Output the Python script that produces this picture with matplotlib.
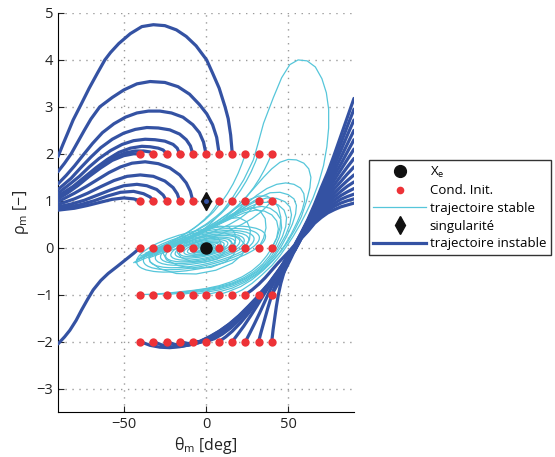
import matplotlib
matplotlib.use("Agg")
import matplotlib.pyplot as plt
from matplotlib.lines import Line2D
from matplotlib.patches import Ellipse
from matplotlib.transforms import Affine2D

# ---- initial conditions grid (deg, -) ----
THETA0 = [-40, -32, -24, -16, -8, 0, 8, 16, 24, 32, 40]
RHO0 = [-2, -1, 0, 1, 2]
X_E = (0, 0)
SINGULARITY = (0, 1)

# ---- unstable trajectories escaping to the left (theta, rho) ----
LEFT_ARCS = [
    [(16, 2.0), (15, 2.4), (13.5, 2.75), (11.6, 3.0), (8, 3.4), (4, 3.72), (0.4, 4.0), (-6, 4.3),
     (-12, 4.5), (-18, 4.64), (-25, 4.73), (-32, 4.75), (-39, 4.71), (-46, 4.56), (-53, 4.35),
     (-58, 4.16), (-61.5, 4.0), (-66, 3.72), (-71, 3.4), (-76, 3.05), (-80.8, 2.72), (-84, 2.45),
     (-87, 2.2), (-90, 1.94)],
    [(8, 2.0), (6.5, 2.35), (4, 2.62), (0.5, 2.85), (-4, 3.05), (-10, 3.27), (-17, 3.43), (-25, 3.52),
     (-34, 3.54), (-42, 3.49), (-50, 3.36), (-57, 3.2), (-64.6, 3.0), (-70, 2.74), (-74, 2.5),
     (-78, 2.25), (-82, 2.0), (-86, 1.8), (-90, 1.62)],
    [(0, 2.0), (-1.5, 2.25), (-4, 2.45), (-8, 2.62), (-14, 2.78), (-21, 2.87), (-28, 2.91), (-35, 2.91),
     (-42, 2.87), (-49, 2.78), (-56, 2.64), (-63, 2.45), (-69, 2.22), (-75, 1.96), (-80, 1.74),
     (-85, 1.54), (-90, 1.36)],
    [(-8, 2.0), (-9.5, 2.17), (-12, 2.3), (-16, 2.42), (-22, 2.51), (-29, 2.55), (-36, 2.56), (-43, 2.52),
     (-50, 2.44), (-57, 2.31), (-64, 2.13), (-70, 1.93), (-76, 1.71), (-82, 1.48), (-90, 1.24)],
    [(-16, 2.0), (-17.5, 2.12), (-20, 2.2), (-25, 2.27), (-31, 2.3), (-37, 2.31), (-44, 2.28), (-51, 2.2),
     (-58, 2.07), (-65, 1.9), (-71, 1.72), (-77, 1.52), (-83, 1.35), (-90, 1.16)],
    [(-24, 2.0), (-26, 2.08), (-29, 2.12), (-34, 2.15), (-39, 2.16), (-46, 2.12), (-53, 2.03), (-60, 1.88),
     (-67, 1.7), (-74, 1.5), (-81, 1.3), (-90, 1.1)],
    [(-32, 2.0), (-34, 2.04), (-38, 2.06), (-43, 2.06), (-49, 2.02), (-56, 1.92), (-63, 1.76), (-70, 1.57),
     (-77, 1.37), (-84, 1.2), (-90, 1.07)],
    [(-40, 2.0), (-44, 2.0), (-50, 1.96), (-57, 1.86), (-64, 1.7), (-71, 1.52), (-78, 1.32), (-84, 1.17),
     (-90, 1.04)],
    [(-8, 1.0), (-9.5, 1.2), (-12, 1.38), (-16, 1.55), (-22, 1.7), (-29, 1.79), (-37, 1.83), (-45, 1.8),
     (-52, 1.72), (-59, 1.6), (-66, 1.45), (-73, 1.3), (-80, 1.16), (-90, 0.98)],
    [(-16, 1.0), (-17.5, 1.15), (-20, 1.28), (-25, 1.42), (-32, 1.52), (-40, 1.55), (-48, 1.52),
     (-56, 1.43), (-64, 1.3), (-72, 1.16), (-80, 1.04), (-90, 0.92)],
    [(-24, 1.0), (-26, 1.12), (-30, 1.24), (-36, 1.32), (-42, 1.35), (-50, 1.32), (-58, 1.23),
     (-66, 1.12), (-74, 1.01), (-82, 0.93), (-90, 0.87)],
    [(-32, 1.0), (-34, 1.08), (-38, 1.15), (-44, 1.2), (-52, 1.18), (-60, 1.1), (-68, 1.0), (-76, 0.92),
     (-83, 0.87), (-90, 0.83)],
    [(-40, 1.0), (-44, 1.04), (-50, 1.06), (-57, 1.03), (-64, 0.97), (-72, 0.9), (-80, 0.84), (-90, 0.8)],
]

LOWER_LEFT = [(-40, 0.0), (-44, -0.12), (-49, -0.26), (-54, -0.4), (-59.5, -0.55), (-64, -0.7),
              (-68.6, -0.9), (-72, -1.1), (-75.7, -1.33), (-79, -1.55), (-82.8, -1.76), (-86, -1.9),
              (-90, -2.05)]

# ---- unstable trajectories escaping to the right: approach part ----
RIGHT_APPROACH = [
    [(24, -1.0), (28, -0.9), (32, -0.78), (36, -0.64), (40, -0.48), (44, -0.32), (47, -0.21), (50, -0.1),
     (54, 0.06)],
    [(-40, -2.0), (-34, -2.08), (-28, -2.12), (-22, -2.13), (-16, -2.11), (-10, -2.07), (-4, -2.0),
     (2, -1.9), (8, -1.78), (14, -1.63), (20, -1.45), (26, -1.24), (32, -1.02), (38, -0.78),
     (43, -0.55), (47, -0.33), (50, -0.14), (54, 0.05)],
    [(-32, -2.0), (-27, -2.07), (-21, -2.11), (-15, -2.1), (-9, -2.06), (-3, -1.99), (3, -1.89),
     (9, -1.76), (15, -1.61), (21, -1.43), (27, -1.22), (33, -1.0), (38, -0.79), (43, -0.56),
     (47, -0.34), (50, -0.15), (54, 0.04)],
    [(-24, -2.0), (-19, -2.06), (-13, -2.08), (-7, -2.05), (-1, -1.98), (5, -1.87), (11, -1.73),
     (17, -1.57), (23, -1.38), (29, -1.16), (34, -0.96), (39, -0.76), (43, -0.57), (47, -0.36),
     (50, -0.16), (54, 0.03)],
    [(-16, -2.0), (-11, -2.04), (-5, -2.03), (1, -1.97), (7, -1.86), (13, -1.71), (19, -1.53),
     (25, -1.32), (30, -1.12), (35, -0.92), (40, -0.72), (44, -0.53), (47, -0.37), (50, -0.17),
     (54, 0.02)],
    [(-8, -2.0), (-3, -2.0), (3, -1.95), (9, -1.84), (15, -1.68), (21, -1.49), (27, -1.27), (32, -1.07),
     (37, -0.86), (41, -0.67), (45, -0.48), (48, -0.33), (51, -0.14), (54, 0.01)],
    [(32, -1.0), (35, -0.89), (38.5, -0.75), (42, -0.58), (45, -0.44), (48, -0.3), (51, -0.15),
     (54, 0.0)],
    [(0, -2.0), (5, -1.94), (10, -1.84), (15, -1.71), (20, -1.55), (25, -1.36), (30, -1.15), (35, -0.93),
     (39, -0.74), (43, -0.55), (46, -0.4), (49, -0.25), (51.5, -0.13), (54, -0.01)],
    [(8, -2.0), (12, -1.9), (16, -1.78), (21, -1.6), (26, -1.39), (31, -1.16), (35, -0.96), (39, -0.76),
     (43, -0.57), (46, -0.42), (49, -0.27), (52, -0.12), (54, -0.02)],
    [(16, -2.0), (19, -1.86), (23, -1.67), (27, -1.46), (31, -1.24), (35, -1.01), (39, -0.79),
     (43, -0.58), (46, -0.43), (49, -0.28), (52, -0.13), (54, -0.03)],
    [(24, -2.0), (26.5, -1.83), (29.5, -1.62), (32.5, -1.4), (35.5, -1.17), (38.5, -0.94), (41.5, -0.72),
     (44.5, -0.52), (47.5, -0.35), (50.5, -0.2), (54, -0.04)],
    [(40, -1.0), (42, -0.88), (44.5, -0.72), (47, -0.55), (49.5, -0.38), (52, -0.2), (54, -0.05)],
    [(32, -2.0), (33.5, -1.8), (35.5, -1.55), (37.5, -1.3), (39.5, -1.07), (41.5, -0.86), (44, -0.65),
     (46.5, -0.46), (49, -0.3), (51.5, -0.17), (54, -0.05)],
    [(40, -2.0), (40.8, -1.75), (41.8, -1.5), (42.8, -1.25), (44, -1.0), (45.5, -0.76), (47.3, -0.54),
     (49.3, -0.34), (51.5, -0.18), (54, -0.06)],
]

# ---- ... and the fan after the pinch, same order ----
FAN_THETA = [58, 62, 66, 70, 74, 78, 82, 86, 90]
FAN_RHO = [
    [0.32, 0.60, 0.92, 1.27, 1.60, 1.98, 2.38, 2.78, 3.18],
    [0.31, 0.58, 0.88, 1.20, 1.52, 1.86, 2.22, 2.59, 2.95],
    [0.30, 0.56, 0.85, 1.14, 1.44, 1.75, 2.07, 2.40, 2.72],
    [0.29, 0.54, 0.81, 1.08, 1.36, 1.64, 1.92, 2.21, 2.50],
    [0.28, 0.52, 0.78, 1.03, 1.28, 1.54, 1.78, 2.04, 2.30],
    [0.27, 0.50, 0.74, 0.98, 1.21, 1.44, 1.66, 1.88, 2.10],
    [0.26, 0.48, 0.71, 0.93, 1.14, 1.34, 1.53, 1.72, 1.90],
    [0.25, 0.46, 0.68, 0.88, 1.07, 1.25, 1.41, 1.57, 1.72],
    [0.24, 0.44, 0.65, 0.84, 1.01, 1.16, 1.30, 1.43, 1.55],
    [0.23, 0.42, 0.62, 0.79, 0.95, 1.08, 1.20, 1.31, 1.40],
    [0.22, 0.40, 0.59, 0.75, 0.89, 1.01, 1.11, 1.19, 1.26],
    [0.21, 0.38, 0.56, 0.71, 0.84, 0.94, 1.03, 1.09, 1.14],
    [0.21, 0.37, 0.54, 0.67, 0.79, 0.88, 0.95, 1.00, 1.04],
    [0.20, 0.35, 0.52, 0.64, 0.74, 0.81, 0.87, 0.91, 0.95],
]

# ---- stable trajectories (approach + first turn) ----
STABLE = [
    # from rho = -1
    [(16, -1.0), (22, -0.9), (28, -0.76), (34, -0.58), (40, -0.38), (45, -0.17), (49, 0.03), (53, 0.24),
     (57, 0.48), (61, 0.75), (65, 1.05), (68.5, 1.38), (71.5, 1.75), (73.5, 2.15), (74.6, 2.55),
     (74.6, 2.95), (73.2, 3.3), (70.5, 3.6), (66.5, 3.85), (61.5, 3.98), (56, 4.0), (51, 3.9),
     (46, 3.62), (41, 3.2), (35, 2.65), (31.5, 2.2), (28.8, 1.87), (23, 1.45), (16.6, 1.09),
     (10, 0.78), (3, 0.52), (-4, 0.32), (-12, 0.15), (-21, 0.0), (-30, -0.13), (-38, -0.24),
     (-43, -0.32)],
    [(8, -1.0), (14, -0.93), (21, -0.83), (28, -0.68), (35, -0.48), (41, -0.27), (46, -0.06), (50, 0.14),
     (54, 0.38), (58, 0.66), (61, 0.98), (63.2, 1.28), (63.8, 1.5), (62.5, 1.68), (59.5, 1.8),
     (55, 1.87), (50, 1.88), (45, 1.82), (40, 1.68), (35, 1.5), (30, 1.3), (24, 1.06), (18, 0.84),
     (11, 0.62), (4, 0.44), (-4, 0.28), (-13, 0.13), (-23, -0.01), (-32, -0.13), (-40, -0.23),
     (-44, -0.32)],
    [(0, -1.0), (8, -0.94), (16, -0.86), (24, -0.73), (31, -0.57), (38, -0.37), (44, -0.14), (48, 0.06),
     (52, 0.3), (55.5, 0.55), (58.5, 0.8), (60, 1.0), (59.5, 1.15), (57.5, 1.27), (53.5, 1.35),
     (48.5, 1.38), (43, 1.35), (37, 1.26), (31, 1.12), (25, 0.95), (18, 0.76), (11, 0.58), (3, 0.42),
     (-6, 0.26), (-16, 0.11), (-26, -0.03), (-35, -0.15), (-42, -0.27)],
    [(-8, -1.0), (0, -0.95), (8, -0.9), (16, -0.82), (24, -0.7), (31, -0.55), (37, -0.37), (42, -0.17),
     (46, 0.04), (49.5, 0.27), (52.5, 0.5), (54.5, 0.72), (55, 0.9), (53.5, 1.04), (50, 1.13),
     (45, 1.18), (39, 1.17), (33, 1.08), (27, 0.95), (20, 0.78), (13, 0.61), (5, 0.45), (-4, 0.3),
     (-14, 0.15), (-24, 0.01), (-33, -0.11), (-41, -0.24)],
    [(-16, -1.0), (-8, -0.96), (0, -0.92), (8, -0.87), (16, -0.79), (24, -0.67), (31, -0.52),
     (37, -0.34), (41.5, -0.15), (45, 0.05), (48.5, 0.27), (51, 0.5), (52, 0.7), (51, 0.87), (48, 0.98),
     (43, 1.05), (37, 1.06), (31, 1.0), (25, 0.89), (18, 0.74), (11, 0.58), (3, 0.43), (-6, 0.28),
     (-16, 0.13), (-26, -0.01), (-35, -0.14), (-42, -0.26)],
    [(-24, -1.0), (-16, -0.97), (-8, -0.94), (0, -0.9), (8, -0.85), (16, -0.77), (24, -0.65),
     (30, -0.52), (36, -0.34), (40, -0.17), (43.5, 0.03), (46.5, 0.24), (48.5, 0.45), (49, 0.64),
     (47.5, 0.8), (44, 0.91), (39, 0.97), (33, 0.96), (27, 0.88), (20, 0.75), (13, 0.6), (5, 0.45),
     (-4, 0.3), (-14, 0.15), (-24, 0.01), (-33, -0.11), (-40, -0.22)],
    [(-32, -1.0), (-24, -0.98), (-16, -0.95), (-8, -0.92), (0, -0.88), (8, -0.83), (16, -0.75),
     (23, -0.64), (29, -0.51), (34.5, -0.35), (38.5, -0.18), (42, 0.02), (44.5, 0.22), (46, 0.42),
     (45.5, 0.6), (43, 0.74), (39, 0.84), (34, 0.88), (28, 0.85), (21, 0.75), (14, 0.62), (6, 0.47),
     (-3, 0.32), (-13, 0.17), (-23, 0.03), (-32, -0.09), (-39, -0.2)],
    [(-40, -1.0), (-32, -0.99), (-24, -0.97), (-16, -0.94), (-8, -0.91), (0, -0.87), (8, -0.81),
     (15, -0.73), (22, -0.62), (28, -0.49), (33, -0.34), (37, -0.17), (40.5, 0.02), (43, 0.21),
     (44, 0.4), (43, 0.57), (40, 0.7), (35.5, 0.78), (30, 0.8), (23, 0.74), (16, 0.63), (8, 0.5),
     (0, 0.36), (-9, 0.21), (-19, 0.06), (-29, -0.07), (-37, -0.18)],
    # from rho = 0
    [(40, 0.0), (43, 0.2), (45, 0.42), (45.5, 0.65), (44, 0.86), (41, 1.02), (37, 1.1), (32, 1.1),
     (26, 1.02), (20, 0.88), (13, 0.71), (6, 0.54), (-2, 0.38), (-11, 0.22), (-21, 0.07), (-30, -0.05),
     (-38, -0.17)],
    [(32, 0.0), (35, 0.2), (36.5, 0.42), (36, 0.62), (33, 0.78), (28, 0.85), (22, 0.82), (15, 0.7),
     (8, 0.55), (0, 0.4), (-9, 0.24), (-19, 0.09), (-29, -0.04), (-36, -0.14)],
    [(24, 0.0), (26.5, 0.18), (27, 0.38), (25, 0.55), (20, 0.64), (14, 0.62), (7, 0.52), (-1, 0.38),
     (-10, 0.23), (-20, 0.08), (-29, -0.04)],
    [(16, 0.0), (18, 0.16), (17.5, 0.32), (14, 0.44), (8, 0.46), (1, 0.38), (-7, 0.26), (-16, 0.12),
     (-25, -0.01)],
    [(8, 0.0), (9, 0.12), (7, 0.22), (2, 0.26), (-5, 0.2), (-13, 0.09)],
    [(-32, 0.0), (-35, -0.14), (-34, -0.3), (-28, -0.45), (-18, -0.55), (-6, -0.56), (6, -0.48),
     (16, -0.33), (22, -0.15), (24, 0.05), (20, 0.22), (12, 0.3)],
    [(-24, 0.0), (-26, -0.12), (-24, -0.26), (-17, -0.38), (-8, -0.44), (3, -0.42), (12, -0.3),
     (17, -0.14), (18, 0.03), (14, 0.16)],
    [(-16, 0.0), (-17.5, -0.1), (-15, -0.21), (-9, -0.29), (-1, -0.31), (7, -0.24), (11, -0.11),
     (11, 0.03)],
    [(-8, 0.0), (-9, -0.08), (-6, -0.15), (-1, -0.17), (4, -0.12), (6, -0.03)],
    # from rho = 1
    [(40, 1.0), (37, 0.88), (33, 0.75), (28, 0.62), (22, 0.5), (15, 0.38), (8, 0.28), (0, 0.18),
     (-9, 0.08), (-19, -0.03), (-28, -0.13), (-35, -0.22)],
    [(32, 1.0), (29, 0.87), (25, 0.74), (20, 0.61), (14, 0.49), (7, 0.38), (0, 0.28), (-8, 0.17),
     (-17, 0.06), (-26, -0.05), (-34, -0.16)],
    [(24, 1.0), (21, 0.86), (17, 0.72), (12, 0.59), (6, 0.47), (0, 0.36), (-7, 0.25), (-15, 0.13),
     (-24, 0.01), (-32, -0.1)],
    [(16, 1.0), (13, 0.86), (9, 0.72), (5, 0.6), (0, 0.48), (-6, 0.36), (-13, 0.23), (-21, 0.1),
     (-29, -0.02)],
    [(8, 1.0), (5.5, 0.86), (2.5, 0.72), (-1, 0.6), (-5, 0.48), (-10, 0.35), (-16, 0.22), (-23, 0.09),
     (-30, -0.03)],
    # from rho = 2
    [(24, 2.0), (22, 1.8), (19.5, 1.58), (16.5, 1.36), (13, 1.15), (9, 0.95), (4.5, 0.76), (-1, 0.58),
     (-7, 0.42), (-14, 0.27), (-22, 0.12), (-30, -0.01), (-37, -0.12)],
    [(32, 2.0), (30, 1.82), (27.5, 1.62), (24.5, 1.42), (21, 1.22), (17, 1.03), (12, 0.84), (6, 0.66),
     (0, 0.5), (-7, 0.35), (-15, 0.2), (-24, 0.05), (-33, -0.08), (-40, -0.18)],
    [(40, 2.0), (38, 1.84), (35.5, 1.66), (32.5, 1.47), (29, 1.28), (25, 1.1), (20, 0.92), (14, 0.74),
     (7, 0.57), (0, 0.42), (-8, 0.27), (-17, 0.12), (-27, -0.02), (-36, -0.15), (-42, -0.25)],
]

# ---- spiral core around X_e, drawn as nested ellipses ----
# semi axes in deg (rho measured in screen-equivalent deg), centre in data units
CORE_A = [40, 36, 32.5, 29, 26, 23, 20, 17.5, 15, 12.5, 10.5, 8.5, 6.5, 5, 3.5]
CORE_B = [11.5, 10.3, 9.3, 8.3, 7.4, 6.6, 5.8, 5.0, 4.3, 3.6, 3.0, 2.4, 1.9, 1.4, 1.0]
CORE_CT = [-3, -2.8, -2.6, -2.4, -2.2, -2.0, -1.8, -1.6, -1.4, -1.2, -1.0, -0.8, -0.6, -0.4, -0.2]
CORE_CR = [-0.03, -0.03, -0.03, -0.02, -0.02, -0.02, -0.02, -0.01, -0.01, -0.01, -0.01, 0, 0, 0, 0]
CORE_ANGLE = 12

DARK = "#3452a3"
CYAN = "#56c6da"
RED = "#ed3237"

plt.rcParams['font.family'] = ['Open Sans', 'DejaVu Sans']
plt.rcParams['mathtext.fontset'] = 'custom'
plt.rcParams['mathtext.rm'] = 'Open Sans'
plt.rcParams['mathtext.it'] = 'Open Sans'

fig = plt.figure(figsize=(5.55, 4.57), dpi=100)
ax = fig.add_axes([0.1045, 0.0985, 0.5333, 0.8731])
ax.set_xlim(-90, 90)
ax.set_ylim(-3.5, 5)

# grid
ax.set_xticks([-50, 0, 50])
ax.set_yticks(range(-3, 6))
ax.grid(True, color="#9a9a9a", linestyle=(0, (1, 4)), linewidth=1.0)
ax.set_axisbelow(True)

# stable part
for traj in STABLE:
    th, rh = zip(*traj)
    ax.plot(th, rh, color=CYAN, lw=0.9, zorder=2, solid_capstyle="round")

# ratio of screen pixels per unit rho to pixels per deg
bbox = ax.get_position()
px_deg = bbox.width * fig.get_figwidth() / 180.0
px_rho = bbox.height * fig.get_figheight() / 8.5
k = px_rho / px_deg
tr = Affine2D().scale(1, 1.0 / k) + ax.transData
for a, b, ct, cr in zip(CORE_A, CORE_B, CORE_CT, CORE_CR):
    ax.add_patch(Ellipse((ct, cr * k), 2 * a, 2 * b, angle=CORE_ANGLE, transform=tr,
                         fill=False, edgecolor=CYAN, lw=0.9, zorder=2))

# unstable part
for traj in LEFT_ARCS:
    th, rh = zip(*traj)
    ax.plot(th, rh, color=DARK, lw=2.3, zorder=3, solid_capstyle="round")
th, rh = zip(*LOWER_LEFT)
ax.plot(th, rh, color=DARK, lw=2.3, zorder=3, solid_capstyle="round")
for traj, fan in zip(RIGHT_APPROACH, FAN_RHO):
    th, rh = zip(*traj)
    th = list(th) + FAN_THETA
    rh = list(rh) + fan
    ax.plot(th, rh, color=DARK, lw=2.3, zorder=3, solid_capstyle="round")

# initial conditions
for r in RHO0:
    ax.plot(THETA0, [r] * len(THETA0), "o", color=RED, ms=6, mec="none", zorder=4)

ax.plot(*X_E, "o", color="#111111", ms=8, zorder=5)
ax.plot(*SINGULARITY, "d", color="#111111", ms=9, zorder=5)
ax.plot(*SINGULARITY, "o", color=DARK, ms=2.5, zorder=6)

for s in ["top", "right"]:
    ax.spines[s].set_visible(False)
ax.tick_params(direction="in", length=4, labelsize=10.5, colors="#222222")
ax.set_xticklabels(["\u221250", "0", "50"])
ax.set_yticklabels(["\u22123", "\u22122", "\u22121", "0", "1", "2", "3", "4", "5"])
ax.set_xlabel("\u03b8$_{\\mathrm{m}}$ [deg]", fontsize=11.5, color="#222222", labelpad=2)
ax.set_ylabel("\u03c1$_{\\mathrm{m}}$ [\u2212]", fontsize=11.5, color="#222222", labelpad=4)

handles = [
    Line2D([], [], marker="o", color="#111111", ls="none", ms=8.5),
    Line2D([], [], marker="o", color=RED, ls="none", ms=5.5, mec="none"),
    Line2D([], [], color=CYAN, lw=0.9),
    Line2D([], [], marker="d", color="#111111", ls="none", ms=9),
    Line2D([], [], color=DARK, lw=2.3),
]
labels = ["X$_{\\mathrm{e}}$", "Cond. Init.", "trajectoire stable", "singularit\u00e9",
          "trajectoire instable"]
leg = fig.legend(handles, labels, loc="center left", bbox_to_anchor=(0.664, 0.546),
                 fontsize=9.5, frameon=True, fancybox=False, edgecolor="black",
                 handlelength=4.0, handletextpad=0.3, borderpad=0.35, labelspacing=0.35,
                 borderaxespad=0)
leg.get_frame().set_linewidth(1.0)

fig.savefig("out.png", dpi=100)
